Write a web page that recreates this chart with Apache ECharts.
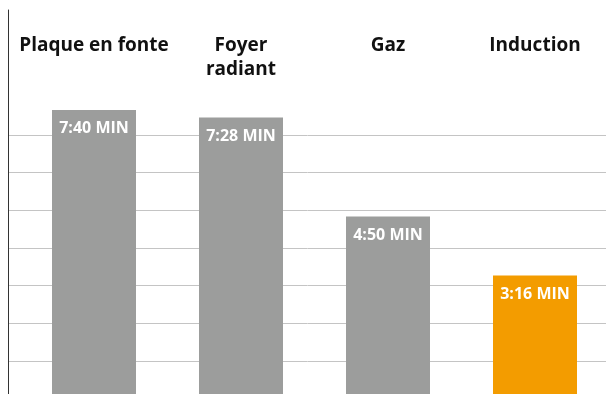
<!DOCTYPE html>
<html>
<head>
<meta charset="utf-8">
<script src="https://cdn.jsdelivr.net/npm/echarts@6/dist/echarts.min.js"></script>
<style>
  html, body { margin: 0; padding: 0; background: #fff; }
  #chart { width: 606px; height: 394px; }
</style>
</head>
<body>
<div id="chart"></div>
<script>
// Boiling time per cooktop type, in seconds
const categories = ['Plaque en fonte', 'Foyer\nradiant', 'Gaz', 'Induction'];
const seconds = [460, 448, 290, 196];
const barColors = ['#9c9d9c', '#9c9d9c', '#9c9d9c', '#f39c00'];
const gridStep = 60;   // one gridline per minute
const gridTopValue = 420;

function formatMinutes(s) {
  const m = Math.floor(s / 60);
  const r = s % 60;
  return m + ':' + String(r).padStart(2, '0') + ' MIN';
}

const W = 606, H = 394;
const plotTop = 10, plotBottom = -4.5, gridTop = 135;
// keep the two value axes on the same pixel scale
const fullMax = gridTopValue * (H - plotBottom - plotTop) / (H - plotBottom - gridTop);

const chart = echarts.init(document.getElementById('chart'), null, { renderer: 'canvas' });
chart.setOption({
  animation: false,
  textStyle: { fontFamily: 'Open Sans' },
  grid: [
    { left: 20.5, right: -2.5, top: plotTop, bottom: plotBottom, outerBoundsMode: 'none' },
    { left: 9, right: 0, top: gridTop, bottom: plotBottom, outerBoundsMode: 'none' }
  ],
  xAxis: [
    {
      type: 'category',
      gridIndex: 0,
      position: 'top',
      data: categories,
      axisLine: { show: false },
      axisTick: { show: false },
      axisLabel: {
        margin: -24,
        verticalAlign: 'top',
        fontSize: 19,
        fontWeight: 'bold',
        lineHeight: 24,
        color: '#111',
        interval: 0
      }
    },
    { type: 'value', gridIndex: 1, show: false, min: 0, max: 1 }
  ],
  yAxis: [
    {
      type: 'value',
      gridIndex: 0,
      min: 0,
      max: fullMax,
      offset: 12,
      axisLine: { show: true, lineStyle: { color: '#333', width: 1 } },
      axisTick: { show: false },
      axisLabel: { show: false },
      splitLine: { show: false }
    },
    {
      type: 'value',
      gridIndex: 1,
      min: 0,
      max: gridTopValue,
      interval: gridStep,
      axisLine: { show: false },
      axisTick: { show: false },
      axisLabel: { show: false },
      splitLine: { show: true, lineStyle: { color: '#c4c4c4', width: 1 } }
    }
  ],
  series: [
    {
      type: 'bar',
      xAxisIndex: 0,
      yAxisIndex: 0,
      barWidth: 84,
      data: seconds.map((v, i) => ({ value: v, itemStyle: { color: barColors[i] } })),
      label: {
        show: true,
        position: 'insideTop',
        distance: 11,
        color: '#fff',
        fontSize: 16,
        fontWeight: 'bold',
        formatter: p => formatMinutes(p.value)
      }
    }
  ]
});
</script>
</body>
</html>
